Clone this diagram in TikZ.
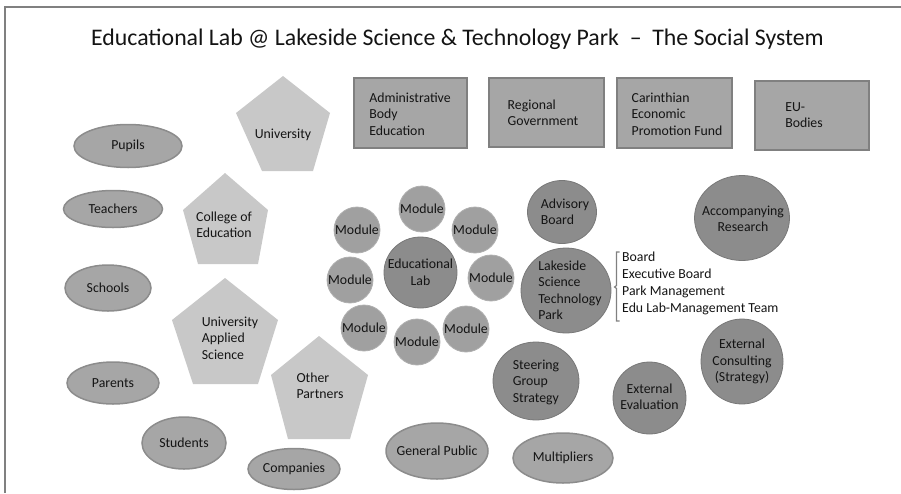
\documentclass[tikz,border=0pt]{standalone}
\usepackage{fontspec}
\setmainfont{Carlito}
\usetikzlibrary{shapes.geometric}
\definecolor{framec}{RGB}{128,128,128}
\definecolor{rectfill}{RGB}{166,166,166}
\definecolor{rectdraw}{RGB}{128,128,128}
\definecolor{ellfill}{RGB}{166,166,166}
\definecolor{elldraw}{RGB}{140,140,140}
\definecolor{modfill}{RGB}{160,160,160}
\definecolor{moddraw}{RGB}{175,175,175}
\definecolor{darkfill}{RGB}{140,140,140}
\definecolor{darkdraw}{RGB}{120,120,120}
\definecolor{pentfill}{RGB}{200,200,200}
\definecolor{txt}{RGB}{20,20,20}
\begin{document}
\begin{tikzpicture}[x=1pt,y=-1pt,
  every node/.style={text=txt, font=\fontsize{13.8}{16.5}\selectfont, inner sep=0pt},
  box/.style={draw=rectdraw, line width=1.2pt, fill=rectfill},
  oval/.style={ellipse, draw=elldraw, line width=1.5pt, fill=ellfill},
  modc/.style={circle, draw=moddraw, line width=0.8pt, fill=modfill, minimum size=46pt},
  darkc/.style={ellipse, draw=darkdraw, line width=0.8pt, fill=darkfill},
  pent/.style={fill=pentfill},
  lbl/.style={align=left},
  ctr/.style={align=center}
]
\useasboundingbox (0,0) rectangle (901,493);
% frame
\draw[framec, line width=1.3pt] (5,493) -- (5,7) -- (901,7);
% title
\node[font=\fontsize{23.8}{28}\selectfont] (title) at (457.5,39) {Educational Lab @ Lakeside Science \& Technology Park\ \ –\ \ The Social System};

% rectangles
\node[box, minimum width=113pt, minimum height=70pt] (admin) at (410.5,113) {};
\node[lbl] (admint) at (410,114) {Administrative\\Body\\Education};
\node[box, minimum width=115pt, minimum height=69pt] (regio) at (546.5,112.5) {};
\node[lbl] (regiot) at (543,113) {Regional\\Government};
\node[box, minimum width=115pt, minimum height=70pt] (carin) at (674.5,113) {};
\node[lbl] (carint) at (677,114) {Carinthian\\Economic\\Promotion Fund};
\node[box, minimum width=114pt, minimum height=69pt] (eu) at (812,115.5) {};
\node[lbl] (eut) at (804,115) {EU-\\Bodies};

% pentagons
\fill[pent] (283,76) -- (330,113) -- (313,171) -- (262,171) -- (236,113) -- cycle;
\node (univ) at (283,135) {University};
\fill[pent] (225,173) -- (268,210) -- (258,264) -- (198,264) -- (183,210) -- cycle;
\node[ctr] (coll) at (224,225) {College of\\Education};
\fill[pent] (225,278) -- (278,320) -- (258,384) -- (193,384) -- (172,320) -- cycle;
\node[lbl] (uas) at (230,338) {University\\Applied\\Science};
\fill[pent] (319,336) -- (368,375) -- (350,439) -- (288,439) -- (271,375) -- cycle;
\node[lbl] (other) at (320,386) {Other\\Partners};

% ellipses
\node[oval, minimum width=108pt, minimum height=43pt] (pupils) at (128,146) {};
\node (pupilst) at (pupils) {Pupils};
\node[oval, minimum width=99pt, minimum height=37pt] (teach) at (113,209) {};
\node (teacht) at (teach) {Teachers};
\node[oval, minimum width=86pt, minimum height=46pt] (schools) at (108,288) {};
\node (schoolst) at (schools) {Schools};
\node[oval, minimum width=92pt, minimum height=42pt] (parents) at (113,383) {};
\node (parentst) at (parents) {Parents};
\node[oval, minimum width=84pt, minimum height=52pt] (students) at (184,443) {};
\node (studentst) at (students) {Students};
\node[oval, minimum width=92pt, minimum height=41pt] (comp) at (294,469) {};
\node (compt) at (comp) {Companies};
\node[oval, minimum width=102pt, minimum height=56pt] (public) at (437,451) {};
\node (publict) at (public) {General Public};
\node[oval, minimum width=100pt, minimum height=50pt] (multi) at (563,458) {};
\node (multit) at (multi) {Multipliers};

% modules and educational lab
\foreach \n/\p in {m1/{(422,209)}, m2/{(357,230)}, m3/{(475,230)}, m4/{(350,280)}, m5/{(491,278)}, m6/{(364,328)}, m7/{(417,342)}, m8/{(466,329)}}{
  \node[modc] (\n) at \p {};
  \node (\n t) at (\n) {Module};
}
\node[darkc, minimum width=73pt, minimum height=71pt] (edlab) at (420.5,272.5) {};
\node[ctr] (edlabt) at (edlab) {Educational\\Lab};

% dark circles
\node[darkc, minimum width=69pt, minimum height=63pt] (advis) at (562,212) {};
\node[lbl] (advist) at (565,212) {Advisory\\Board};
\node[darkc, minimum width=95pt, minimum height=85pt] (accomp) at (742,218) {};
\node[ctr] (accompt) at (743,219) {Accompanying\\Research};
\node[darkc, minimum width=90pt, minimum height=85pt] (lsp) at (566,290.5) {};
\node[lbl] (lspt) at (570,290.5) {Lakeside\\Science\\Technology\\Park};
\node[darkc, minimum width=86pt, minimum height=78pt] (steer) at (536,381) {};
\node[lbl] (steert) at (536,382) {Steering\\Group\\Strategy};
\node[darkc, minimum width=73pt, minimum height=72pt] (exteval) at (649.5,398) {};
\node[ctr] (extevalt) at (649.5,397) {External\\Evaluation};
\node[darkc, minimum width=82pt, minimum height=85pt] (extcons) at (742,361.5) {};
\node[ctr] (extconst) at (742,361.5) {External\\Consulting\\(Strategy)};

% management list with bracket
\node[lbl, anchor=west, font=\fontsize{13.8}{17}\selectfont] (mgmt) at (622,283) {Board\\Executive Board\\Park Management\\Edu Lab-Management Team};
\draw[framec, line width=1.2pt] (619.5,252) -- (616.5,252) -- (616.5,285.5) -- (614.5,287) -- (616.5,288.5) -- (616.5,321) -- (619.5,321);
\end{tikzpicture}
\end{document}
